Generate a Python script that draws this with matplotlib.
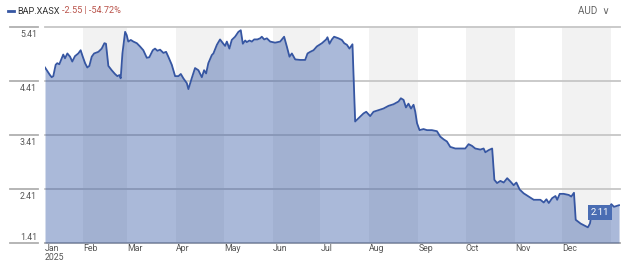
import numpy as np
import pandas as pd
import matplotlib
matplotlib.use("Agg")
import matplotlib.pyplot as plt
from matplotlib.lines import Line2D
from matplotlib import transforms

# ---- data (days since 2025-01-01, closing price AUD) ----
days = [6.96, 10.1, 11.2, 12.2, 13.7, 14.7, 16.0, 17.5, 18.5, 19.6, 21.1, 22.8, 24.2, 25.9,
        28.0, 29.5, 30.6, 32.3, 33.7, 35.0, 36.5, 38.0, 40.7, 42.8, 44.5, 45.5, 47.0, 49.1,
        51.2, 52.7, 54.0, 54.8, 55.9, 57.6, 58.6, 59.6, 61.2, 62.8, 65.0, 67.0, 69.1, 71.3,
        72.9, 75.1, 76.5, 78.0, 79.7, 81.8, 83.5, 84.9, 87.1, 89.2, 91.3, 92.8, 94.4, 96.6,
        97.6, 99.7, 101.8, 103.9, 106.1, 107.5, 108.8, 110.2, 112.4, 113.4, 115.6, 117.6,
        119.4, 120.8, 121.9, 123.5, 125.0, 127.1, 129.2, 130.7, 132.0, 133.5, 134.5, 136.2,
        137.7, 139.2, 141.2, 142.9, 144.0, 145.5, 147.2, 149.3, 152.4, 155.6, 158.1, 159.8,
        161.5, 163.0, 165.1, 168.2, 171.4, 172.9, 174.6, 176.7, 178.8, 182.0, 184.7, 185.5,
        186.8, 188.3, 189.7, 192.5, 194.6, 196.1, 197.8, 199.4, 201.3, 203.0, 205.1, 208.3,
        210.0, 212.5, 214.6, 217.8, 220.9, 224.1, 227.3, 230.4, 231.9, 233.6, 235.1, 236.7,
        238.3, 239.9, 241.0, 242.1, 243.7, 246.2, 248.4, 251.5, 254.7, 256.8, 258.9, 261.0,
        263.1, 266.3, 269.4, 272.6, 274.7, 276.8, 278.9, 282.1, 284.2, 285.3, 287.4, 289.6,
        291.0, 292.7, 294.8, 296.9, 299.1, 301.1, 303.2, 304.9, 307.0, 309.5, 312.7, 315.9,
        320.1, 322.2, 323.9, 325.4, 327.5, 329.6, 330.7, 332.3, 334.8, 338.0, 339.6, 341.3,
        342.4, 345.5, 348.7, 350.1, 351.4, 352.9, 355.0, 358.2, 361.3, 363.4, 364.9, 366.6,
        369.8]
prices = [4.66, 4.52, 4.48, 4.50, 4.71, 4.74, 4.72, 4.83, 4.90, 4.83, 4.92, 4.86, 4.77, 4.87,
          4.92, 4.98, 4.88, 4.74, 4.66, 4.69, 4.86, 4.92, 4.95, 5.01, 5.11, 5.10, 4.69, 4.61,
          4.54, 4.50, 4.52, 4.46, 4.92, 5.32, 5.26, 5.14, 5.17, 5.14, 5.11, 5.05, 4.98, 4.84,
          4.85, 4.98, 5.01, 4.97, 4.99, 4.93, 4.95, 4.86, 4.71, 4.50, 4.50, 4.54, 4.46, 4.37,
          4.26, 4.46, 4.65, 4.61, 4.48, 4.61, 4.55, 4.74, 4.89, 4.92, 5.08, 5.18,
          5.11, 5.06, 5.14, 5.01, 5.17, 5.23, 5.32, 5.35, 5.10, 5.16, 5.13, 5.16,
          5.14, 5.18, 5.18, 5.20, 5.23, 5.18, 5.20, 5.14, 5.12, 5.14, 5.23, 5.05,
          4.86, 4.92, 4.81, 4.80, 4.80, 4.92, 4.95, 4.98, 5.05, 5.11, 5.18, 5.22,
          5.10, 5.18, 5.23, 5.20, 5.17, 5.11, 5.08, 5.01, 5.09, 3.66, 3.72, 3.81,
          3.84, 3.76, 3.84, 3.87, 3.90, 3.95, 3.98, 4.03, 4.09, 4.06, 3.92, 3.99,
          3.90, 3.97, 3.84, 3.63, 3.50, 3.52, 3.50, 3.50, 3.48, 3.38, 3.33, 3.29,
          3.19, 3.16, 3.16, 3.16, 3.24, 3.21, 3.16, 3.14, 3.16, 3.09, 3.13, 3.16,
          2.58, 2.52, 2.56, 2.53, 2.61, 2.55, 2.48, 2.53, 2.40, 2.33, 2.27, 2.21,
          2.21, 2.16, 2.22, 2.15, 2.24, 2.28, 2.21, 2.32, 2.32, 2.30, 2.27, 2.34,
          1.84, 1.77, 1.72, 1.70, 1.77, 2.02, 2.05, 2.05, 2.08, 2.05, 2.13, 2.08,
          2.11]
y_ticks = [1.41, 2.41, 3.41, 4.41, 5.41]
y_tick_labels = ["1.41", "2.41", "3.41", "4.41", "5.41"]
month_labels = ["Jan\n2025", "Feb", "Mar", "Apr", "May", "Jun", "Jul", "Aug", "Sep", "Oct", "Nov", "Dec"]
year = 2025
last_label = "2.11"
ticker = "BAP.XASX"
change_text = "-2.55 | -54.72%"
currency = "AUD"

FONT = ["Roboto", "DejaVu Sans"]
plt.rcParams["font.family"] = FONT

W, H = 624, 262
month_starts = [(pd.Timestamp(year, m, 1) - pd.Timestamp(year, 1, 1)).days for m in range(1, 13)]
month_starts.append((pd.Timestamp(year + 1, 1, 1) - pd.Timestamp(year, 1, 1)).days)

fig = plt.figure(figsize=(W / 100, H / 100), dpi=100)
ax = fig.add_axes([45 / W, 19 / H, 575 / W, 216 / H])
ax.set_xlim(days[0], 370.4)
ax.set_ylim(y_ticks[0], y_ticks[-1])
for s in ax.spines.values():
    s.set_visible(False)
ax.set_xticks([])
ax.set_yticks([])

# alternating month bands
for i in range(1, 12, 2):
    ax.axvspan(month_starts[i], month_starts[i + 1], color="#f2f2f2", lw=0, zorder=0)

# gridlines
for i, yv in enumerate(y_ticks):
    ax.axhline(yv, color="#a8a8a8" if i == 0 else "#c6c6c6", lw=1.3, zorder=1, clip_on=False)

ax.fill_between(days, prices, y_ticks[0], color=(43 / 255, 80 / 255, 160 / 255), alpha=0.4, lw=0, zorder=2)
ax.plot(days, prices, color="#3656a2", lw=1.3, zorder=3, solid_joinstyle="round")

# left tick segments and labels
bt = transforms.blended_transform_factory(fig.transFigure, ax.transData)
for i, (yv, lab) in enumerate(zip(y_ticks, y_tick_labels)):
    fig.add_artist(Line2D([10 / W, 38 / W], [yv, yv], transform=bt, color="#b0b0b0", lw=1.3))
    off = 6 / 54 if i == 0 else -7.5 / 54
    fig.text(37 / W, yv + off, lab, transform=bt, ha="right", va="center", fontsize=6.3, color="#555555")

# month labels
xt = transforms.blended_transform_factory(ax.transData, fig.transFigure)
for i, lab in enumerate(month_labels):
    xpos = days[0] if i == 0 else month_starts[i]
    fig.text(xpos, 1 - 244 / H, lab, transform=xt, ha="left", va="top", fontsize=6.3,
             color="#555555", linespacing=1.0)

# last price tag
ax.text(357.7, 1.975, last_label, ha="center", va="center", fontsize=6.8, color="white", zorder=5,
        bbox=dict(boxstyle="square,pad=0.3", fc="#4a6db3", ec="none"))

# header
fig.add_artist(Line2D([8 / W, 14 / W], [1 - 11 / H] * 2, color="#3656a2", lw=2))
t1 = fig.text(17 / W, 1 - 11 / H, ticker, ha="left", va="center", fontsize=6.6, color="#333333")
fig.canvas.draw()
bb = t1.get_window_extent(renderer=fig.canvas.get_renderer())
fig.text((bb.x1 + 3) / W, 1 - 11 / H, change_text, ha="left", va="center", fontsize=6.6, color="#b9534a")
fig.text(610 / W, 1 - 11 / H, currency + "  \u2228", ha="right", va="center", fontsize=7.2,
         color="#666666", family=FONT)

fig.savefig("out.png", dpi=100)
